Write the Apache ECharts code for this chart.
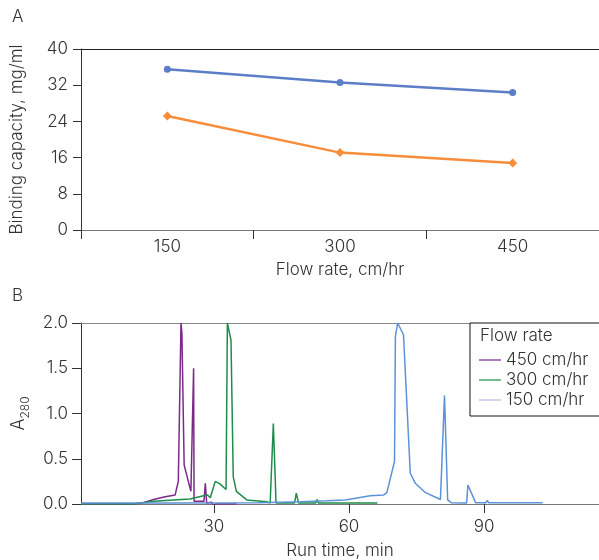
<!DOCTYPE html>
<html>
<head>
<meta charset="utf-8">
<script src="https://cdn.jsdelivr.net/npm/echarts@6/dist/echarts.min.js"></script>
<style>
html,body{margin:0;padding:0;background:#fff;}
#chart{width:599px;height:560px;}
</style>
</head>
<body>
<div id="chart"></div>
<script>
// ---- Panel A data ----
const flowRates = ['150', '300', '450'];
const capacityBlue = [35.5, 32.6, 30.4];
const capacityOrange = [25.2, 17.1, 14.8];

// ---- Panel B data (run time, min / A280) ----
const time450 = [0.5, 12, 14, 16.6, 19.2, 21.4, 22.1, 22.5, 22.7, 22.9, 23.2, 23.4, 24.9, 25.5, 25.6, 26.2, 27.8, 28.1, 28.4, 29.5, 29.9, 30.4, 35];
const abs450  = [0, 0, 0.01, 0.05, 0.08, 0.10, 0.25, 0.25, 2.0, 1.89, 1.87, 0.43, 0.14, 1.50, 0.03, 0.03, 0.03, 0.23, 0.01, 0.02, -0.02, 0, 0];

const time300 = [0.5, 12, 16.6, 24.7, 27.7, 28.6, 29.2, 30.3, 31.4, 32.7, 33.0, 33.8, 34.3, 35.0, 37.3, 41.8, 42.5, 43.2, 43.8, 47.9, 48.3, 48.8, 52.6, 52.9, 53.2, 66.3];
const abs300  = [0, 0, 0.03, 0.055, 0.09, 0.10, 0.07, 0.25, 0.22, 0.16, 2.0, 1.81, 0.30, 0.14, 0.045, 0.025, 0.01, 0.89, 0.01, 0.01, 0.12, 0.01, 0.01, 0.05, 0.01, 0.01];

const time150 = [0.5, 20, 40, 49.2, 55, 59.2, 64.7, 67.7, 68.4, 70.1, 70.3, 70.8, 72.1, 73.6, 74.7, 77.0, 80.3, 80.6, 81.2, 81.9, 82.7, 86.1, 86.4, 88.1, 90.4, 90.7, 91.0, 103];
const abs150  = [0.01, 0.01, 0.015, 0.025, 0.035, 0.045, 0.09, 0.10, 0.125, 0.47, 1.85, 2.0, 1.87, 0.34, 0.23, 0.125, 0.05, 0.05, 1.20, 0.045, 0.015, 0.01, 0.21, 0.015, 0.015, 0.04, 0.015, 0.015];

const xTicksB = [30, 60, 90];
const seriesNamesB = ['450 cm/hr', '300 cm/hr', '150 cm/hr'];

const zip = (t, v) => t.map((x, i) => [x, v[i]]);

const FONT = 'Inter';
const TXT = '#333';
const FS = 17;

const chart = echarts.init(document.getElementById('chart'), null, {renderer: 'canvas'});

const option = {
  animation: false,
  textStyle: {fontFamily: FONT, fontWeight: 300, color: TXT},
  grid: [
    {left: 81, top: 49, width: 520, height: 181, containLabel: false},
    {left: 81, top: 323, width: 518, height: 181, containLabel: false}
  ],
  graphic: [
    {type: 'text', left: 12, top: 8, style: {text: 'A', font: '300 17px ' + FONT, fill: TXT}},
    {type: 'text', left: 12, top: 287, style: {text: 'B', font: '300 17px ' + FONT, fill: TXT}},
    {type: 'text', left: 480, top: 327, z: 100, style: {text: 'Flow rate', font: '300 17px ' + FONT, fill: TXT}}
  ],
  legend: {
    show: true,
    orient: 'vertical',
    left: 470,
    top: 323,
    padding: [27, 30, 6, 9],
    borderColor: '#111',
    borderWidth: 1,
    backgroundColor: '#fff',
    icon: 'rect',
    itemWidth: 22,
    itemHeight: 1.2,
    itemGap: 0,
    textStyle: {fontFamily: FONT, fontWeight: 300, fontSize: FS, color: TXT, lineHeight: 20},
    data: [
      {name: seriesNamesB[0], itemStyle: {color: '#7b2a8a'}},
      {name: seriesNamesB[1], itemStyle: {color: '#1e8c4a'}},
      {name: seriesNamesB[2], itemStyle: {color: '#b4b8e0'}}
    ]
  },
  xAxis: [
    {
      type: 'category', gridIndex: 0, data: flowRates, boundaryGap: true,
      name: 'Flow rate, cm/hr', nameLocation: 'middle', nameGap: 31,
      nameTextStyle: {fontSize: FS, color: TXT, fontFamily: FONT, fontWeight: 300},
      axisLine: {lineStyle: {color: '#777', width: 1}},
      axisTick: {show: true, length: 9, lineStyle: {color: '#333'}},
      axisLabel: {fontSize: FS, color: TXT, margin: 8, fontFamily: FONT, fontWeight: 300},
      splitLine: {show: false}
    },
    {
      type: 'value', gridIndex: 0, position: 'top', min: 0, max: 1,
      axisLine: {show: true, onZero: false, lineStyle: {color: '#222', width: 1}},
      axisTick: {show: false}, axisLabel: {show: false}, splitLine: {show: false}
    },
    {
      type: 'value', gridIndex: 1, min: 0.5, max: 115.5,
      name: 'Run time, min', nameLocation: 'middle', nameGap: 38,
      nameTextStyle: {fontSize: FS, color: TXT, fontFamily: FONT, fontWeight: 300},
      axisLine: {onZero: false, lineStyle: {color: '#777', width: 1}},
      axisTick: {show: true, length: 9, customValues: xTicksB, lineStyle: {color: '#333'}},
      axisLabel: {fontSize: FS, color: TXT, margin: 14, customValues: xTicksB, fontFamily: FONT, fontWeight: 300},
      splitLine: {show: false}
    },
    {
      type: 'value', gridIndex: 1, position: 'top', min: 0, max: 1,
      axisLine: {show: true, onZero: false, lineStyle: {color: '#888', width: 1}},
      axisTick: {show: false}, axisLabel: {show: false}, splitLine: {show: false}
    }
  ],
  yAxis: [
    {
      type: 'value', gridIndex: 0, min: 0, max: 40, interval: 8,
      name: 'Binding capacity, mg/ml', nameLocation: 'middle', nameGap: 56,
      nameTextStyle: {fontSize: FS, color: TXT, fontFamily: FONT, fontWeight: 300},
      axisLine: {show: true, lineStyle: {color: '#333', width: 1}},
      axisTick: {show: true, length: 8, lineStyle: {color: '#333'}},
      axisLabel: {fontSize: FS, color: TXT, margin: 13, fontFamily: FONT, fontWeight: 300},
      splitLine: {show: false}
    },
    {
      type: 'value', gridIndex: 1, min: 0, max: 2, interval: 0.5,
      name: '{a|A}{s|280}', nameLocation: 'middle', nameGap: 50,
      nameTextStyle: {
        fontFamily: FONT, color: TXT,
        rich: {
          a: {fontSize: 18, fontFamily: FONT, fontWeight: 300, color: TXT, lineHeight: 24, verticalAlign: 'middle'},
          s: {fontSize: 12, fontFamily: FONT, fontWeight: 300, color: TXT, lineHeight: 24, verticalAlign: 'bottom'}
        }
      },
      axisLine: {show: true, lineStyle: {color: '#333', width: 1}},
      axisTick: {show: true, length: 9, lineStyle: {color: '#333'}},
      axisLabel: {fontSize: FS, color: TXT, margin: 13, fontFamily: FONT, fontWeight: 300, formatter: v => v.toFixed(1)},
      splitLine: {show: false}
    }
  ],
  series: [
    {
      name: 'Binding capacity (blue)', type: 'line', xAxisIndex: 0, yAxisIndex: 0,
      data: capacityBlue, symbol: 'circle', symbolSize: 7,
      lineStyle: {color: '#5b7ec6', width: 2.5}, itemStyle: {color: '#5b7ec6'}
    },
    {
      name: 'Binding capacity (orange)', type: 'line', xAxisIndex: 0, yAxisIndex: 0,
      data: capacityOrange, symbol: 'diamond', symbolSize: 9,
      lineStyle: {color: '#f78d3a', width: 2.5}, itemStyle: {color: '#f78d3a'}
    },
    {
      name: seriesNamesB[0], type: 'line', xAxisIndex: 2, yAxisIndex: 1,
      data: zip(time450, abs450), showSymbol: false, symbol: 'none',
      lineStyle: {color: '#7b2a8a', width: 1.5}, itemStyle: {color: '#7b2a8a'}
    },
    {
      name: seriesNamesB[1], type: 'line', xAxisIndex: 2, yAxisIndex: 1,
      data: zip(time300, abs300), showSymbol: false, symbol: 'none',
      lineStyle: {color: '#1e8c4a', width: 1.5}, itemStyle: {color: '#1e8c4a'}
    },
    {
      name: seriesNamesB[2], type: 'line', xAxisIndex: 2, yAxisIndex: 1,
      data: zip(time150, abs150), showSymbol: false, symbol: 'none',
      lineStyle: {color: '#5b92d8', width: 1.5}, itemStyle: {color: '#5b92d8'}
    }
  ]
};
chart.setOption(option);
</script>
</body>
</html>
